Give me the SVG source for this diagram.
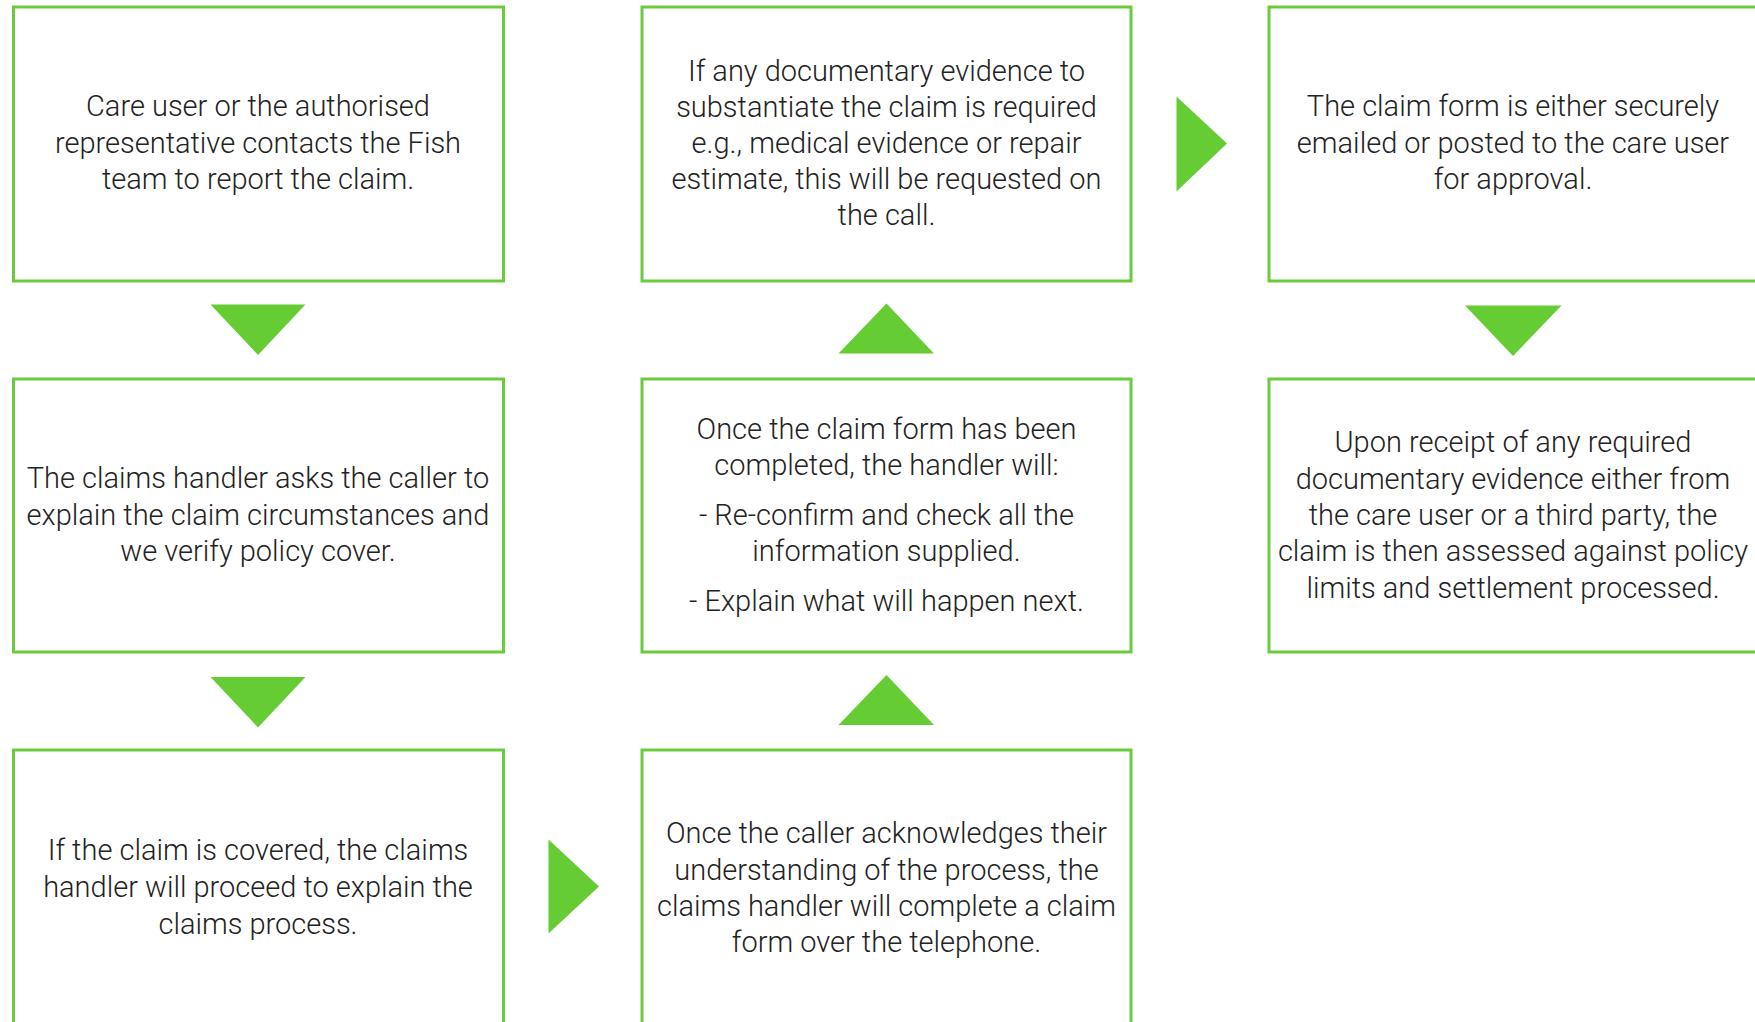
<svg xmlns="http://www.w3.org/2000/svg" width="1755" height="1022" viewBox="0 0 1755 1022">
<style>
.box{fill:#ffffff;stroke:#6acc3c;stroke-width:3}
.arr{fill:#66cc33}
text{font-family:Roboto,"Liberation Sans",sans-serif;font-weight:300;font-size:29px;fill:#222222;text-anchor:middle}
</style>
<rect x="0" y="0" width="1755" height="1022" fill="#ffffff"/>
<g id="n1"><rect class="box" x="13.5" y="7" width="490" height="274"/>
<text x="258" y="116">Care user or the authorised</text>
<text x="258" y="152.5">representative contacts the Fish</text>
<text x="258" y="188.5">team to report the claim.</text></g>
<g id="n2"><rect class="box" x="13.5" y="379" width="490" height="273"/>
<text x="258" y="487.5">The claims handler asks the caller to</text>
<text x="258" y="524.5">explain the claim circumstances and</text>
<text x="258" y="560.5">we verify policy cover.</text></g>
<g id="n3"><rect class="box" x="13.5" y="750" width="490" height="300"/>
<text x="258" y="859.5">If the claim is covered, the claims</text>
<text x="258" y="896.5">handler will proceed to explain the</text>
<text x="258" y="933.5">claims process.</text></g>
<g id="n4"><rect class="box" x="642" y="750" width="489" height="300"/>
<text x="886.5" y="842.5">Once the caller acknowledges their</text>
<text x="886.5" y="879.5">understanding of the process, the</text>
<text x="886.5" y="915.5">claims handler will complete a claim</text>
<text x="886.5" y="951.5">form over the telephone.</text></g>
<g id="n5"><rect class="box" x="642" y="379" width="489" height="273"/>
<text x="886.5" y="438.5">Once the claim form has been</text>
<text x="886.5" y="474.5">completed, the handler will:</text>
<text x="886.5" y="524.5">- Re-confirm and check all the</text>
<text x="886.5" y="560.5">information supplied.</text>
<text x="886.5" y="610.5">- Explain what will happen next.</text></g>
<g id="n6"><rect class="box" x="642" y="7" width="489" height="274"/>
<text x="886.5" y="80.5">If any documentary evidence to</text>
<text x="886.5" y="117">substantiate the claim is required</text>
<text x="886.5" y="153">e.g., medical evidence or repair</text>
<text x="886.5" y="189">estimate, this will be requested on</text>
<text x="886.5" y="225">the call.</text></g>
<g id="n7"><rect class="box" x="1269" y="7" width="500" height="274"/>
<text x="1513" y="116">The claim form is either securely</text>
<text x="1513" y="152.5">emailed or posted to the care user</text>
<text x="1513" y="188.5">for approval.</text></g>
<g id="n8"><rect class="box" x="1269" y="379" width="500" height="273"/>
<text x="1513" y="452">Upon receipt of any required</text>
<text x="1513" y="488.5">documentary evidence either from</text>
<text x="1513" y="524.5">the care user or a third party, the</text>
<text x="1513" y="560.5">claim is then assessed against policy</text>
<text x="1513" y="597.5">limits and settlement processed.</text></g>
<g id="connectors">
<polygon class="arr" points="210.5,304.5 305.5,304.5 258,355"/>
<polygon class="arr" points="210.5,677 305.5,677 258,727.5"/>
<polygon class="arr" points="548.5,839.5 599,886.5 548.5,933.5"/>
<polygon class="arr" points="838.5,725 934,725 886.5,675"/>
<polygon class="arr" points="838.5,353.5 934,353.5 886.5,303.5"/>
<polygon class="arr" points="1176.5,96.5 1227,143.5 1176.5,191.5"/>
<polygon class="arr" points="1465,305.5 1561.5,305.5 1513,356"/>
</g>
</svg>
